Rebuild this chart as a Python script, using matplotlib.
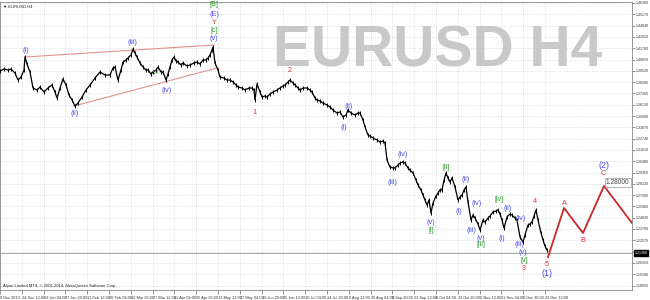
import matplotlib
matplotlib.use("Agg")
import matplotlib.pyplot as plt

plt.rcParams['font.family'] = ['Liberation Sans', 'DejaVu Sans']

# ---- price path (H4 bar number, price) ----
bars = [0,16,32,44,60,72,84,96,100,108,120,132,148,160,176,192,208,220,228,240,252,264,276,288,300,312,328,344,360,380,400,420,440,452,460,472,484,492,504,512,524,532,540,548,560,572,584,592,604,612,624,632,644,652,664,672,680,688,696,704,712,724,732,748,760,776,788,800,812,824,832,840,848,852,860,872,880,896,908,920,932,944,952,968,980,996,1008,1016,1020,1028,1040,1048,1060,1068,1080,1092,1108,1120,1132,1140,1152,1160,1172,1180,1192,1200,1212,1228,1240,1248,1260,1268,1280,1292,1308,1320,1332,1348,1360,1372,1384,1392,1404,1420,1432,1440,1452,1460,1472,1480,1492,1508,1520,1532,1540,1548,1560,1572,1580,1592,1600,1612,1620,1632,1640,1652,1664,1672,1684,1692,1700,1708,1716,1724,1732,1744,1752,1760,1768,1776,1784,1792,1800,1808,1820,1832,1840,1848,1856,1864,1872,1884,1892,1900,1912,1920,1932,1940,1952,1960,1972,1984,1992,2000,2008,2016,2028,2040,2048,2060,2068,2080,2092,2100,2112,2120,2128,2136,2144,2152,2164,2172,2180,2188]
prices = [1.395,1.397,1.396,1.397,1.393,1.386,1.389,1.396,1.409,1.402,1.394,1.378,1.376,1.379,1.374,1.378,1.381,1.374,1.368,1.378,1.387,1.381,1.371,1.366,1.360,1.363,1.369,1.376,1.381,1.388,1.394,1.391,1.391,1.398,1.399,1.386,1.396,1.404,1.406,1.408,1.411,1.417,1.413,1.409,1.403,1.399,1.396,1.396,1.392,1.394,1.396,1.399,1.394,1.394,1.386,1.392,1.399,1.406,1.409,1.405,1.404,1.401,1.403,1.400,1.401,1.403,1.404,1.402,1.406,1.406,1.408,1.411,1.416,1.419,1.403,1.396,1.389,1.388,1.386,1.386,1.384,1.381,1.379,1.378,1.376,1.378,1.378,1.376,1.366,1.382,1.374,1.369,1.370,1.369,1.372,1.374,1.376,1.378,1.380,1.381,1.384,1.386,1.383,1.381,1.378,1.376,1.378,1.378,1.376,1.374,1.368,1.366,1.365,1.363,1.361,1.359,1.356,1.353,1.354,1.349,1.351,1.356,1.353,1.351,1.353,1.353,1.346,1.339,1.331,1.330,1.328,1.326,1.324,1.325,1.323,1.306,1.299,1.298,1.298,1.301,1.303,1.304,1.303,1.298,1.296,1.293,1.286,1.281,1.276,1.271,1.266,1.261,1.266,1.253,1.263,1.270,1.273,1.276,1.276,1.286,1.293,1.288,1.284,1.288,1.279,1.266,1.269,1.271,1.276,1.279,1.264,1.246,1.251,1.248,1.242,1.236,1.246,1.244,1.248,1.250,1.254,1.255,1.256,1.252,1.246,1.238,1.249,1.252,1.251,1.248,1.246,1.229,1.224,1.231,1.241,1.242,1.244,1.250,1.256,1.246,1.233,1.226,1.220,1.216]

# ---- projected path 5 -> A -> B -> C -> ...
proj_bars = [2192, 2256, 2332, 2416, 2528]
proj_prices = [1.209, 1.258, 1.233, 1.280, 1.243]

# ---- wedge lines
wedge_upper_bars = [100, 856]
wedge_upper_prices = [1.409, 1.421]
wedge_lower_bars = [296, 868]
wedge_lower_prices = [1.360, 1.398]

# ---- wave labels: (text, bar, price, colour key)
wave_labels = [
    ("(i)", 104, 1.416, "b"), ("(ii)", 300, 1.353, "b"), ("(iii)", 528, 1.424, "b"),
    ("w", 620, 1.394, "g"), ("(iv)", 668, 1.376, "b"),
    ("[B]", 856, 1.461, "g"), ("(E)", 856, 1.452, "b"), ("Y", 856, 1.444, "r"),
    ("[c]", 856, 1.436, "g"), ("(v)", 856, 1.428, "b"),
    ("1", 1016, 1.354, "r"), ("2", 1160, 1.396, "r"),
    ("(i)", 1376, 1.339, "b"), ("(ii)", 1396, 1.360, "b"),
    ("(iii)", 1568, 1.284, "b"), ("(iv)", 1612, 1.312, "b"),
    ("(v)", 1724, 1.244, "b"), ("[i]", 1724, 1.236, "g"),
    ("[ii]", 1784, 1.299, "g"),
    ("(i)", 1836, 1.255, "b"), ("(ii)", 1864, 1.287, "b"), ("(iii)", 1884, 1.236, "b"),
    ("(iv)", 1908, 1.263, "b"), ("(v)", 1924, 1.228, "b"), ("[iii]", 1924, 1.221, "g"),
    ("[iv]", 1996, 1.267, "g"),
    ("(i)", 2008, 1.228, "b"), ("(ii)", 2032, 1.258, "b"), ("(iii)", 2076, 1.221, "b"),
    ("(iv)", 2084, 1.248, "b"), ("(v)", 2092, 1.214, "b"), ("[v]", 2096, 1.205, "g"),
    ("3", 2096, 1.197, "r"), ("4", 2140, 1.265, "r"),
    ("5", 2188, 1.201, "r"), ("(1)", 2188, 1.193, "b"),
    ("A", 2256, 1.263, "r"), ("B", 2332, 1.226, "r"), ("C", 2412, 1.293, "r"),
    ("(2)", 2416, 1.301, "b"),
]

x_tick_labels = ["9 Dec 2013", "24 Dec 12:00", "13 Jan 04:00", "27 Jan 20:00", "11 Feb 12:00",
                 "26 Feb 04:00", "12 Mar 20:00", "27 Mar 12:00", "11 Apr 04:00", "25 Apr 20:00",
                 "12 May 12:00", "27 May 04:00", "10 Jun 20:00", "25 Jun 12:00", "10 Jul 04:00",
                 "24 Jul 20:00", "8 Aug 12:00", "25 Aug 04:00", "8 Sep 20:00", "23 Sep 12:00",
                 "8 Oct 04:00", "22 Oct 20:00", "6 Nov 12:00", "21 Nov 04:00", "5 Dec 20:00",
                 "22 Dec 12:00"]
bars_per_label = 87.2
y_top_tick = 1.4630
y_step = 0.0113
n_yticks = 26
bid_price = 1.2130
target_price = 1.2800

colors = {"b": "#4b4bf0", "r": "#dc3434", "g": "#2e9e2e"}

fig = plt.figure(figsize=(6.5, 3.0), dpi=100)
ax = fig.add_axes([0.0, 10/300, 632/650, 288/300])
ax.set_xlim(0, 2528)
ax.set_ylim(1.176, 1.464)

xt = [i * bars_per_label for i in range(len(x_tick_labels))]
yt = [y_top_tick - i * y_step for i in range(n_yticks)]
ax.set_xticks(xt)
ax.set_xticklabels(x_tick_labels, fontsize=2.8, ha='left', color='#333333')
ax.set_yticks(yt)
ax.set_yticklabels([f"{v:.5f}" for v in yt], fontsize=2.6, color='#333333')
ax.yaxis.tick_right()
ax.tick_params(axis='x', length=3, width=0.5, pad=1, color='#666666')
ax.tick_params(axis='y', length=2, width=0.5, pad=1, color='#666666')
ax.grid(True, color='#c8c8c8', linestyle=(0, (1, 2)), linewidth=0.5)
for s in ax.spines.values():
    s.set_color('#888888')
    s.set_linewidth(0.6)

# watermark
ax.text(1752, 1.415, "EURUSD H4", fontsize=41, fontweight='bold', color='#c9c9c9',
        ha='center', va='center', zorder=0)

# price bars (high-low texture) and path
bar_half_range = 0.0022
ax.vlines(bars, [p - bar_half_range for p in prices], [p + bar_half_range for p in prices],
          color='black', linewidth=0.7, zorder=3)
ax.plot(bars, prices, color='black', linewidth=0.9, zorder=3)
ax.plot(proj_bars, proj_prices, color='#c62828', linewidth=1.3, zorder=3, clip_on=True)
ax.plot(wedge_upper_bars, wedge_upper_prices, color='#e39090', linewidth=0.8, zorder=2)
ax.plot(wedge_lower_bars, wedge_lower_prices, color='#e39090', linewidth=0.8, zorder=2)

ax.axhline(bid_price, color='#9a9a9a', linewidth=0.6, zorder=1)

for txt, bx, py, c in wave_labels:
    fs = 6.5 if txt in ("(1)", "(2)") else 5.2
    ax.text(bx, py, txt, color=colors[c], fontsize=fs, ha='center', va='center', zorder=4)

# target price label
ax.text(2424, target_price + 0.0035, "1.28000", fontsize=4.8, color='#444444', ha='left', va='center',
        bbox=dict(boxstyle='square,pad=0.15', fc='white', ec='#999999', lw=0.5), zorder=5)

# bid box on the right axis
ax.text(1.004, bid_price, "1.21300", transform=ax.get_yaxis_transform(), fontsize=2.6,
        color='white', ha='left', va='center', clip_on=False, zorder=6,
        bbox=dict(boxstyle='square,pad=0.25', fc='black', ec='black'))

# header + copyright
ax.text(0.004, 0.992, "\u25bc EURUSD,H4", transform=ax.transAxes, fontsize=3.0, color='#222222',
        ha='left', va='top')
ax.text(0.004, 0.006, "Alpari Limited MT4, \u00a9 2001-2014, MetaQuotes Software Corp.",
        transform=ax.transAxes, fontsize=3.0, color='#222222', ha='left', va='bottom')

fig.savefig("out.png", dpi=100, facecolor='white')
